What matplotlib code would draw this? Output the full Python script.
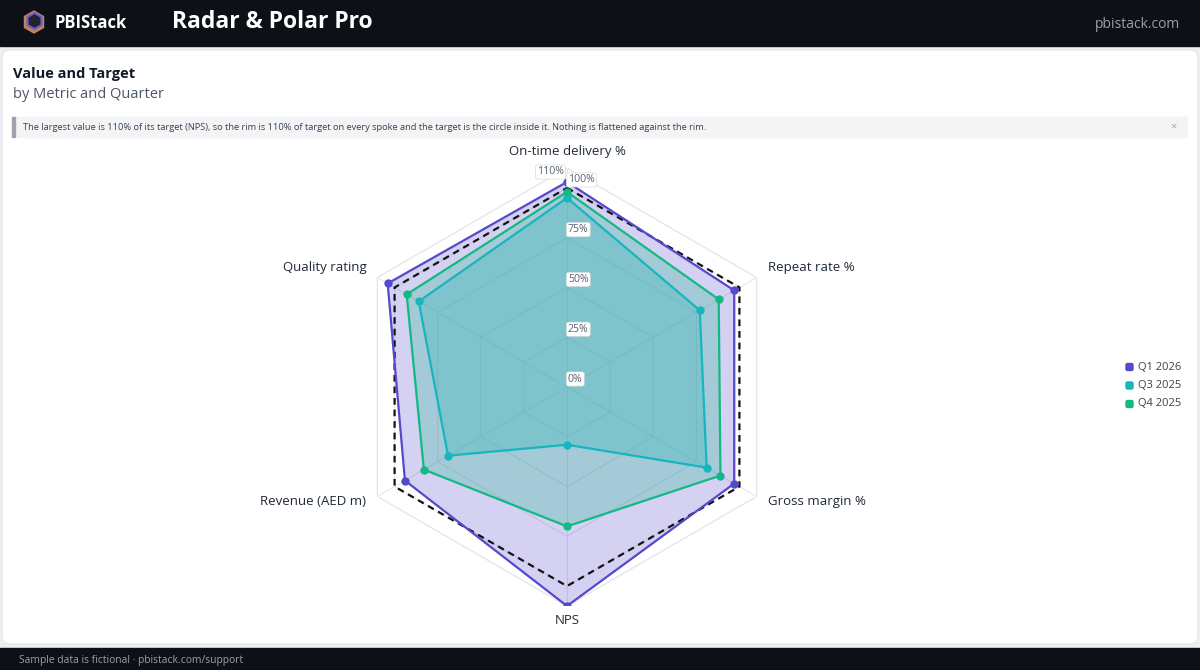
import numpy as np
import matplotlib.pyplot as plt
from matplotlib.patches import Rectangle, FancyBboxPatch, RegularPolygon

plt.rcParams['font.family'] = ['Open Sans', 'DejaVu Sans']

# datos: porcentaje del objetivo por métrica
metricas = ['On-time delivery %', 'Repeat rate %', 'Gross margin %', 'NPS',
            'Revenue (AED m)', 'Quality rating']
series = ['Q1 2026', 'Q3 2025', 'Q4 2025']
q1_2026 = [103, 97, 97, 110, 94, 104]
q3_2025 = [95, 77, 81, 29, 69, 86]
q4_2025 = [98, 88, 89, 70, 83, 93]
objetivo = [100, 100, 100, 100, 100, 100]
anillos = [25, 50, 75, 100]
etiquetas_anillo = ['0%', '25%', '50%', '75%', '100%', '110%']
borde = 110

colores = ['#5549cc', '#17b5bf', '#12b985']
valores = [q1_2026, q3_2025, q4_2025]

W, H = 1200, 670
fig = plt.figure(figsize=(12, 6.7), dpi=100)
fig.patch.set_facecolor('#eef0f3')

# capa de fondo en pixeles
bg = fig.add_axes([0, 0, 1, 1])
bg.set_xlim(0, W)
bg.set_ylim(H, 0)
bg.axis('off')
bg.add_patch(Rectangle((0, 0), W, 46, color='#0d1117'))
bg.add_patch(Rectangle((0, 648), W, 22, color='#0d1117'))
bg.add_patch(FancyBboxPatch((2, 50), W - 4, 594, boxstyle='round,pad=0,rounding_size=8',
                            fc='white', ec='#e3e6ea', lw=0.8))
# logo
bg.add_patch(RegularPolygon((34, 22), 6, radius=11, orientation=0, color='#c08457'))
bg.add_patch(RegularPolygon((34.5, 21), 6, radius=8.5, orientation=0, color='#6d5bd0'))
bg.add_patch(RegularPolygon((34.5, 21), 6, radius=6, orientation=0, color='#1f2430'))
bg.text(55, 23, 'PBIStack', color='white', fontsize=12, fontweight='bold', va='center')
bg.text(172, 22, 'Radar & Polar Pro', color='white', fontsize=16.5, fontweight='bold', va='center')
bg.text(1180, 24, 'pbistack.com', color='#9aa1ab', fontsize=10, va='center', ha='right')

bg.text(13, 74, 'Value and Target', color='#111827', fontsize=10.5, fontweight='bold', va='center')
bg.text(13, 95, 'by Metric and Quarter', color='#4b5563', fontsize=10.5, va='center')
bg.add_patch(Rectangle((12, 117), 1175, 20, color='#f3f4f6'))
bg.add_patch(Rectangle((12, 117), 2.5, 20, color='#9ca3af'))
bg.text(23, 127, 'The largest value is 110% of its target (NPS), so the rim is 110% of target '
        'on every spoke and the target is the circle inside it. Nothing is flattened against the rim.',
        color='#374151', fontsize=6.7, va='center')
bg.text(1173, 127, '×', color='#9ca3af', fontsize=8, va='center', ha='center')
bg.text(19, 661, 'Sample data is fictional · pbistack.com/support', color='#9aa1ab',
        fontsize=7.4, va='center')

# leyenda
for i, (s, c) in enumerate(zip(series, colores)):
    y = 367 + i * 18.5
    bg.add_patch(FancyBboxPatch((1126, y - 3.5), 7, 7, boxstyle='round,pad=0,rounding_size=1.5',
                                color=c))
    bg.text(1138, y, s, color='#374151', fontsize=8, va='center')

# radar
cx, cy, R = 567, 387, 219
ax = fig.add_axes([(cx - R) / W, 1 - (cy + R) / H, 2 * R / W, 2 * R / H], projection='polar')
ax.set_theta_offset(np.pi / 2)
ax.set_theta_direction(-1)
ax.set_ylim(0, borde)
ax.axis('off')

n = len(metricas)
ang = np.linspace(0, 2 * np.pi, n, endpoint=False)
ang_c = np.append(ang, ang[0])


def cerrar(v):
    return np.append(v, v[0])


for r in anillos:
    ax.plot(ang_c, [r] * (n + 1), color='#e5e7eb', lw=0.8, zorder=1)
ax.plot(ang_c, [borde] * (n + 1), color='#e5e7eb', lw=1.0, zorder=1)
for a in ang:
    ax.plot([a, a], [0, borde], color='#e5e7eb', lw=0.8, zorder=1)

for v, c in zip(valores, colores):
    ax.fill(ang_c, cerrar(v), color=c, alpha=0.25, lw=0, zorder=2)
for v, c in zip(valores, colores):
    ax.plot(ang_c, cerrar(v), color=c, lw=1.6, zorder=4)
    ax.plot(ang, v, 'o', color=c, ms=5, zorder=5)

ax.plot(ang_c, cerrar(objetivo), color='#111111', lw=1.6, ls=(0, (3, 2.2)), zorder=3)

# etiquetas de anillos
caja = dict(boxstyle='round,pad=0.15,rounding_size=0.2', fc='white', ec='#d8dbe0', lw=0.5)
for r, t in zip([0] + anillos, etiquetas_anillo[:-1]):
    ax.annotate(t, (0, r), xytext=(1, 8), textcoords='offset pixels', ha='left', va='center',
                fontsize=7.6, color='#5b6270', bbox=caja, zorder=6)
ax.annotate(etiquetas_anillo[-1], (0, borde), xytext=(-3, -4), textcoords='offset pixels',
            ha='right', va='center', fontsize=7.6, color='#5b6270', bbox=caja, zorder=6)

# etiquetas de métricas
desplaz = [(0, 17, 'center'), (11, 10, 'left'), (11, -5, 'left'),
           (0, -14, 'center'), (-11, -5, 'right'), (-11, 10, 'right')]
for a, m, (dx, dy, ha) in zip(ang, metricas, desplaz):
    ax.annotate(m, (a, borde), xytext=(dx, dy), textcoords='offset pixels', ha=ha,
                va='center', fontsize=9.5, color='#1f2937', annotation_clip=False)

fig.savefig('out.png', dpi=100, facecolor=fig.get_facecolor())
